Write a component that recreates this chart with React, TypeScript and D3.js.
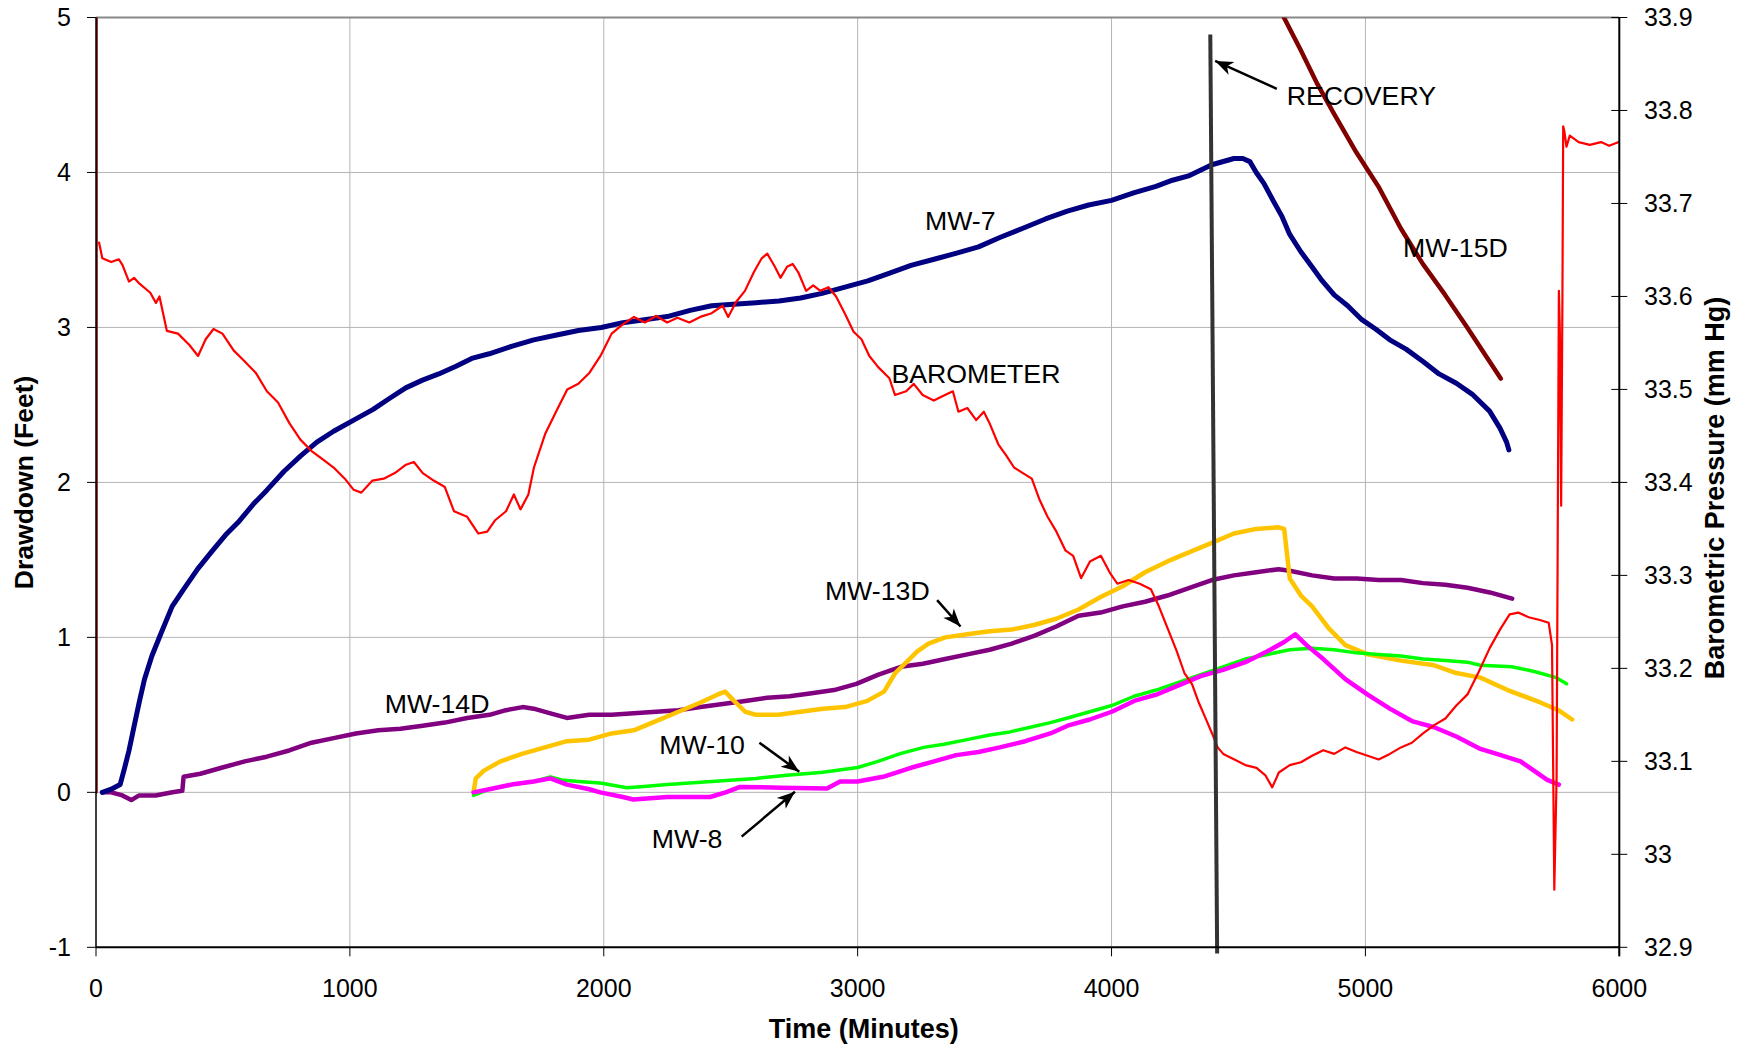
import React from "react";
import * as d3 from "d3";

// Time in minutes; drawdown in feet; barometric pressure in mm Hg.
const xTicks = [0, 1000, 2000, 3000, 4000, 5000, 6000];
const leftTicks = [-1, 0, 1, 2, 3, 4, 5];
const rightTicks = [32.9, 33, 33.1, 33.2, 33.3, 33.4, 33.5, 33.6, 33.7, 33.8, 33.9];

const mw7: [number, number][] = [
  [25, 0.0], [60, 0.02], [95, 0.05], [113, 0.16], [130, 0.27], [148, 0.41], [170, 0.58], [191, 0.73],
  [220, 0.88], [257, 1.03], [300, 1.2], [345, 1.31], [400, 1.44], [454, 1.55], [510, 1.66], [564, 1.75],
  [620, 1.86], [673, 1.95], [740, 2.07], [805, 2.17], [870, 2.26], [936, 2.33], [1024, 2.41], [1090, 2.47],
  [1154, 2.54], [1220, 2.61], [1286, 2.66], [1350, 2.7], [1418, 2.75], [1480, 2.8], [1549, 2.83], [1640, 2.88],
  [1724, 2.92], [1810, 2.95], [1900, 2.98], [1990, 3.0], [2075, 3.03], [2160, 3.05], [2250, 3.07], [2340, 3.11],
  [2425, 3.14], [2510, 3.15], [2600, 3.16], [2690, 3.17], [2775, 3.19], [2860, 3.22], [2950, 3.26], [3040, 3.3],
  [3126, 3.35], [3210, 3.4], [3301, 3.44], [3390, 3.48], [3476, 3.52], [3560, 3.58], [3651, 3.64], [3740, 3.7],
  [3826, 3.75], [3910, 3.79], [4000, 3.82], [4090, 3.87], [4175, 3.91], [4240, 3.95], [4307, 3.98], [4395, 4.05],
  [4482, 4.09], [4517, 4.09], [4545, 4.07], [4570, 4.0], [4600, 3.93], [4636, 3.82], [4670, 3.72], [4702, 3.6],
  [4745, 3.49], [4790, 3.39], [4830, 3.3], [4877, 3.21], [4930, 3.14], [4986, 3.05], [5040, 2.99], [5096, 2.92],
  [5160, 2.86], [5227, 2.78], [5290, 2.7], [5358, 2.64], [5420, 2.57], [5489, 2.46], [5530, 2.35], [5556, 2.26],
  [5565, 2.21],
];

// MW-15D: goes off scale right after the start, re-enters during recovery
const mw15dStart: [number, number][] = [[0, 0.0], [1, 30]];
const mw15dRecovery: [number, number][] = [
  [4679, 5.0], [4745, 4.79], [4811, 4.57], [4876, 4.38], [4964, 4.13], [5051, 3.91], [5139, 3.64],
  [5226, 3.41], [5314, 3.21], [5401, 3.0], [5489, 2.78], [5533, 2.67],
];

const mw13d: [number, number][] = [
  [1487, 0.0], [1496, 0.09], [1528, 0.14], [1593, 0.2], [1681, 0.25], [1768, 0.29], [1855, 0.33], [1943, 0.34],
  [2031, 0.38], [2118, 0.4], [2206, 0.46], [2294, 0.52], [2381, 0.58], [2447, 0.63], [2478, 0.65], [2513, 0.59],
  [2557, 0.52], [2600, 0.5], [2688, 0.5], [2775, 0.52], [2863, 0.54], [2951, 0.55], [3038, 0.59], [3104, 0.65],
  [3148, 0.77], [3192, 0.84], [3235, 0.91], [3279, 0.96], [3345, 1.0], [3432, 1.02], [3520, 1.04], [3607, 1.05],
  [3695, 1.08], [3782, 1.12], [3870, 1.18], [3957, 1.26], [4044, 1.33], [4132, 1.42], [4220, 1.49], [4307, 1.55],
  [4395, 1.61], [4482, 1.67], [4570, 1.7], [4658, 1.71], [4680, 1.7], [4702, 1.38], [4746, 1.27], [4790, 1.2],
  [4855, 1.06], [4921, 0.95], [5009, 0.89], [5140, 0.85], [5271, 0.82], [5358, 0.77], [5453, 0.74], [5560, 0.66],
  [5689, 0.58], [5760, 0.53], [5814, 0.47],
];

const mw14d: [number, number][] = [
  [25, 0.0], [60, 0.0], [104, -0.02], [139, -0.05], [170, -0.02], [235, -0.02], [301, 0.0], [340, 0.01],
  [345, 0.1], [411, 0.12], [498, 0.16], [586, 0.2], [673, 0.23], [761, 0.27], [849, 0.32], [936, 0.35],
  [1024, 0.38], [1112, 0.4], [1199, 0.41], [1287, 0.43], [1374, 0.45], [1462, 0.48], [1550, 0.5], [1615, 0.53],
  [1681, 0.55], [1724, 0.54], [1790, 0.51], [1855, 0.48], [1943, 0.5], [2031, 0.5], [2118, 0.51], [2206, 0.52],
  [2294, 0.53], [2381, 0.55], [2469, 0.57], [2557, 0.59], [2644, 0.61], [2732, 0.62], [2819, 0.64], [2907, 0.66],
  [2995, 0.7], [3082, 0.76], [3170, 0.81], [3257, 0.83], [3345, 0.86], [3432, 0.89], [3520, 0.92], [3607, 0.96],
  [3695, 1.01], [3782, 1.07], [3870, 1.14], [3957, 1.16], [4044, 1.2], [4132, 1.23], [4220, 1.27], [4307, 1.32],
  [4395, 1.37], [4482, 1.4], [4570, 1.42], [4658, 1.44], [4702, 1.43], [4790, 1.4], [4877, 1.38], [4965, 1.38],
  [5052, 1.37], [5140, 1.37], [5227, 1.35], [5315, 1.34], [5402, 1.32], [5490, 1.29], [5578, 1.25],
];

const mw10: [number, number][] = [
  [1487, -0.02], [1549, 0.02], [1637, 0.05], [1724, 0.07], [1790, 0.1], [1834, 0.08], [1900, 0.07], [1986, 0.06],
  [2091, 0.03], [2170, 0.04], [2250, 0.05], [2338, 0.06], [2425, 0.07], [2511, 0.08], [2600, 0.09], [2721, 0.11],
  [2863, 0.13], [3000, 0.16], [3080, 0.2], [3168, 0.25], [3260, 0.29], [3340, 0.31], [3431, 0.34], [3520, 0.37],
  [3600, 0.39], [3680, 0.42], [3759, 0.45], [3827, 0.48], [3914, 0.52], [4001, 0.56], [4089, 0.62], [4176, 0.66],
  [4264, 0.71], [4351, 0.76], [4439, 0.81], [4527, 0.86], [4614, 0.89], [4702, 0.92], [4790, 0.93], [4877, 0.92],
  [4965, 0.9], [5052, 0.89], [5140, 0.88], [5227, 0.86], [5315, 0.85], [5402, 0.84], [5453, 0.82], [5577, 0.81],
  [5665, 0.78], [5752, 0.74], [5792, 0.7],
];

const mw8: [number, number][] = [
  [1487, 0.0], [1549, 0.02], [1637, 0.05], [1724, 0.07], [1790, 0.09], [1855, 0.05], [1943, 0.02], [1986, 0.0],
  [2075, -0.03], [2117, -0.046], [2250, -0.03], [2419, -0.03], [2480, 0.0], [2537, 0.035], [2700, 0.03],
  [2879, 0.025], [2931, 0.07], [3000, 0.07], [3100, 0.1], [3213, 0.16], [3301, 0.2], [3388, 0.24], [3476, 0.26],
  [3560, 0.29], [3660, 0.33], [3759, 0.38], [3827, 0.43], [3914, 0.47], [4001, 0.52], [4089, 0.59], [4176, 0.63],
  [4264, 0.69], [4351, 0.75], [4439, 0.79], [4527, 0.84], [4614, 0.91], [4680, 0.97], [4724, 1.02], [4768, 0.95],
  [4834, 0.86], [4921, 0.73], [5009, 0.63], [5096, 0.54], [5183, 0.46], [5271, 0.42], [5358, 0.36], [5453, 0.28],
  [5533, 0.24], [5611, 0.2], [5716, 0.08], [5762, 0.05],
];

const barometer: [number, number][] = [
  [12, 33.658], [25, 33.641], [60, 33.637], [90, 33.64], [104, 33.634], [130, 33.616], [150, 33.62], [170, 33.614],
  [214, 33.604], [236, 33.593], [250, 33.6], [279, 33.563], [323, 33.56], [367, 33.548], [402, 33.536], [432, 33.554],
  [463, 33.565], [498, 33.56], [542, 33.542], [586, 33.53], [629, 33.518], [673, 33.498], [717, 33.486], [761, 33.464],
  [805, 33.446], [848, 33.434], [892, 33.425], [936, 33.416], [980, 33.404], [1015, 33.392], [1045, 33.389],
  [1089, 33.402], [1133, 33.404], [1177, 33.41], [1221, 33.419], [1252, 33.422], [1287, 33.41], [1330, 33.402],
  [1374, 33.395], [1410, 33.369], [1462, 33.363], [1506, 33.345], [1541, 33.347], [1571, 33.359], [1615, 33.369],
  [1646, 33.387], [1672, 33.371], [1703, 33.387], [1725, 33.416], [1769, 33.452], [1812, 33.476], [1856, 33.5],
  [1900, 33.506], [1944, 33.518], [1987, 33.536], [2031, 33.56], [2075, 33.57], [2119, 33.578], [2162, 33.572],
  [2206, 33.579], [2250, 33.572], [2290, 33.577], [2337, 33.572], [2380, 33.578], [2425, 33.582], [2468, 33.59],
  [2490, 33.578], [2521, 33.594], [2556, 33.606], [2591, 33.626], [2622, 33.641], [2644, 33.646], [2674, 33.632],
  [2696, 33.62], [2722, 33.632], [2744, 33.635], [2766, 33.626], [2797, 33.606], [2825, 33.612], [2853, 33.606],
  [2885, 33.61], [2915, 33.6], [2949, 33.582], [2984, 33.562], [3015, 33.554], [3046, 33.536], [3081, 33.524],
  [3125, 33.512], [3147, 33.494], [3191, 33.498], [3221, 33.506], [3256, 33.494], [3300, 33.488], [3344, 33.494],
  [3375, 33.498], [3397, 33.476], [3432, 33.48], [3467, 33.467], [3497, 33.476], [3519, 33.464], [3554, 33.441],
  [3585, 33.429], [3616, 33.416], [3651, 33.41], [3686, 33.404], [3717, 33.381], [3748, 33.363], [3783, 33.347],
  [3818, 33.327], [3849, 33.321], [3880, 33.297], [3915, 33.315], [3958, 33.321], [3993, 33.303], [4023, 33.291],
  [4067, 33.295], [4111, 33.291], [4155, 33.285], [4186, 33.267], [4221, 33.243], [4256, 33.219], [4287, 33.195],
  [4317, 33.183], [4344, 33.163], [4374, 33.144], [4396, 33.13], [4418, 33.115], [4440, 33.108], [4484, 33.102],
  [4527, 33.096], [4571, 33.093], [4606, 33.085], [4633, 33.072], [4659, 33.088], [4702, 33.096], [4746, 33.099],
  [4790, 33.106], [4834, 33.112], [4877, 33.108], [4921, 33.115], [4965, 33.11], [5009, 33.106], [5052, 33.102],
  [5096, 33.108], [5140, 33.115], [5183, 33.12], [5227, 33.13], [5271, 33.139], [5315, 33.146], [5358, 33.16],
  [5402, 33.172], [5446, 33.196], [5490, 33.222], [5533, 33.243], [5568, 33.258], [5602, 33.26], [5643, 33.255],
  [5687, 33.252], [5722, 33.249], [5735, 33.225], [5744, 32.962], [5753, 33.082], [5762, 33.606], [5766, 33.56],
  [5771, 33.375], [5776, 33.6], [5779, 33.783], [5784, 33.777], [5792, 33.761], [5805, 33.773], [5840, 33.766],
  [5884, 33.763], [5928, 33.766], [5960, 33.762], [5998, 33.766],
];

// Pumping-stop marker
const recoveryLine: [number, number][] = [[4389, 4.89], [4416, -1.04]];

const W = 1743;
const H = 1047;
const M = { left: 96, right: 1619.3, top: 17.5, bottom: 947.3 };
const FONT = "'Liberation Sans', Arial, Helvetica, sans-serif";

export default function App() {
  const x = d3.scaleLinear().domain([0, 6000]).range([M.left, M.right]);
  const yL = d3.scaleLinear().domain([-1, 5]).range([M.bottom, M.top]);
  const yR = d3.scaleLinear().domain([32.9, 33.9]).range([M.bottom, M.top]);

  const lineL = d3.line<[number, number]>().x((d) => x(d[0])).y((d) => yL(d[1]));
  const lineR = d3.line<[number, number]>().x((d) => x(d[0])).y((d) => yR(d[1]));

  const series = [
    { data: mw14d, color: "#800080", w: 4.5 },
    { data: mw13d, color: "#FFC400", w: 4.5 },
    { data: mw10, color: "#00FF00", w: 3.5 },
    { data: mw8, color: "#FF00FF", w: 4.5 },
    { data: mw7, color: "#000080", w: 5 },
    { data: mw15dStart, color: "#800000", w: 3.5 },
    { data: mw15dRecovery, color: "#800000", w: 4.5 },
  ];

  const labels = [
    { text: "MW-7", t: 3265, v: 3.63 },
    { text: "MW-15D", t: 5148, v: 3.455 },
    { text: "BAROMETER", t: 3133, v: 2.64 },
    { text: "MW-13D", t: 2871, v: 1.24 },
    { text: "MW-14D", t: 1137, v: 0.51 },
    { text: "MW-10", t: 2219, v: 0.247 },
    { text: "MW-8", t: 2189, v: -0.357 },
    { text: "RECOVERY", t: 4690, v: 4.435 },
  ];

  const arrows = [
    { from: [4651, 4.54], to: [4408, 4.72] },
    { from: [3313, 1.24], to: [3405, 1.07] },
    { from: [2613, 0.32], to: [2770, 0.133] },
    { from: [2543, -0.286], to: [2753, 0.004] },
  ];

  return (
    <svg
      width={W}
      height={H}
      style={{ position: "absolute", left: 0, top: 0, background: "#fff" }}
      fontFamily={FONT}
    >
      <defs>
        <clipPath id="plot-clip">
          <rect x={M.left} y={M.top} width={M.right - M.left} height={M.bottom - M.top} />
        </clipPath>
        <marker
          id="arrowhead"
          markerUnits="userSpaceOnUse"
          markerWidth={24}
          markerHeight={24}
          refX={0}
          refY={0}
          viewBox="-20 -10 24 20"
          orient="auto"
        >
          <path d="M0,0 L-18,-7 L-13,0 L-18,7 Z" fill="#000" />
        </marker>
      </defs>

      <rect x={0} y={0} width={W} height={H} fill="#fff" />

      {/* grid */}
      {xTicks.slice(1, -1).map((t) => (
        <line key={"gx" + t} x1={x(t)} x2={x(t)} y1={M.top} y2={M.bottom} stroke="#b4b4b4" strokeWidth={1} />
      ))}
      {leftTicks.slice(1).map((t) => (
        <line key={"gy" + t} x1={M.left} x2={M.right} y1={yL(t)} y2={yL(t)} stroke={t === 5 ? "#888" : "#b4b4b4"} strokeWidth={t === 5 ? 2 : 1} />
      ))}

      {/* series */}
      <g clipPath="url(#plot-clip)" fill="none" strokeLinejoin="round" strokeLinecap="round">
        {series.map((s, i) => (
          <path key={i} d={lineL(s.data) ?? ""} stroke={s.color} strokeWidth={s.w} />
        ))}
        <path d={lineR(barometer) ?? ""} stroke="#FF0000" strokeWidth={2.2} />
      </g>

      <path d={lineL(recoveryLine) ?? ""} stroke="#333" strokeWidth={4} fill="none" />

      {/* axes */}
      <line x1={M.left} x2={M.left} y1={M.top} y2={M.bottom} stroke="#000" strokeWidth={1.5} />
      <line x1={M.left} x2={M.right} y1={M.bottom} y2={M.bottom} stroke="#000" strokeWidth={2} />
      <line x1={M.right} x2={M.right} y1={M.top} y2={M.bottom + 9} stroke="#000" strokeWidth={2} />

      {xTicks.map((t) => (
        <g key={"xt" + t}>
          <line x1={x(t)} x2={x(t)} y1={M.bottom} y2={M.bottom + 9} stroke="#000" strokeWidth={1} />
          <text x={x(t)} y={997} textAnchor="middle" fontSize={25}>
            {t}
          </text>
        </g>
      ))}
      {leftTicks.map((t) => (
        <g key={"yl" + t}>
          <line x1={M.left - 9} x2={M.left} y1={yL(t)} y2={yL(t)} stroke="#000" strokeWidth={1} />
          <text x={71} y={yL(t)} dy="0.35em" textAnchor="end" fontSize={25}>
            {t}
          </text>
        </g>
      ))}
      {rightTicks.map((t) => (
        <g key={"yr" + t}>
          <line x1={M.right - 8} x2={M.right + 8} y1={yR(t)} y2={yR(t)} stroke="#000" strokeWidth={1} />
          <text x={1644} y={yR(t)} dy="0.35em" textAnchor="start" fontSize={25}>
            {d3.format("~g")(+t.toFixed(1))}
          </text>
        </g>
      ))}

      {/* axis titles */}
      <text x={(M.left + M.right) / 2 + 6} y={1038} textAnchor="middle" fontSize={27} fontWeight="bold">
        Time (Minutes)
      </text>
      <text transform={`translate(33,${(M.top + M.bottom) / 2}) rotate(-90)`} textAnchor="middle" fontSize={26.5} fontWeight="bold">
        Drawdown (Feet)
      </text>
      <text transform={`translate(1724,488) rotate(-90)`} textAnchor="middle" fontSize={27} fontWeight="bold">
        Barometric Pressure (mm Hg)
      </text>

      {/* annotations */}
      {arrows.map((a, i) => (
        <line
          key={"ar" + i}
          x1={x(a.from[0])}
          y1={yL(a.from[1])}
          x2={x(a.to[0])}
          y2={yL(a.to[1])}
          stroke="#000"
          strokeWidth={2.5}
          markerEnd="url(#arrowhead)"
        />
      ))}
      {labels.map((l) => (
        <text key={l.text} x={x(l.t)} y={yL(l.v)} fontSize={26.7}>
          {l.text}
        </text>
      ))}
    </svg>
  );
}
